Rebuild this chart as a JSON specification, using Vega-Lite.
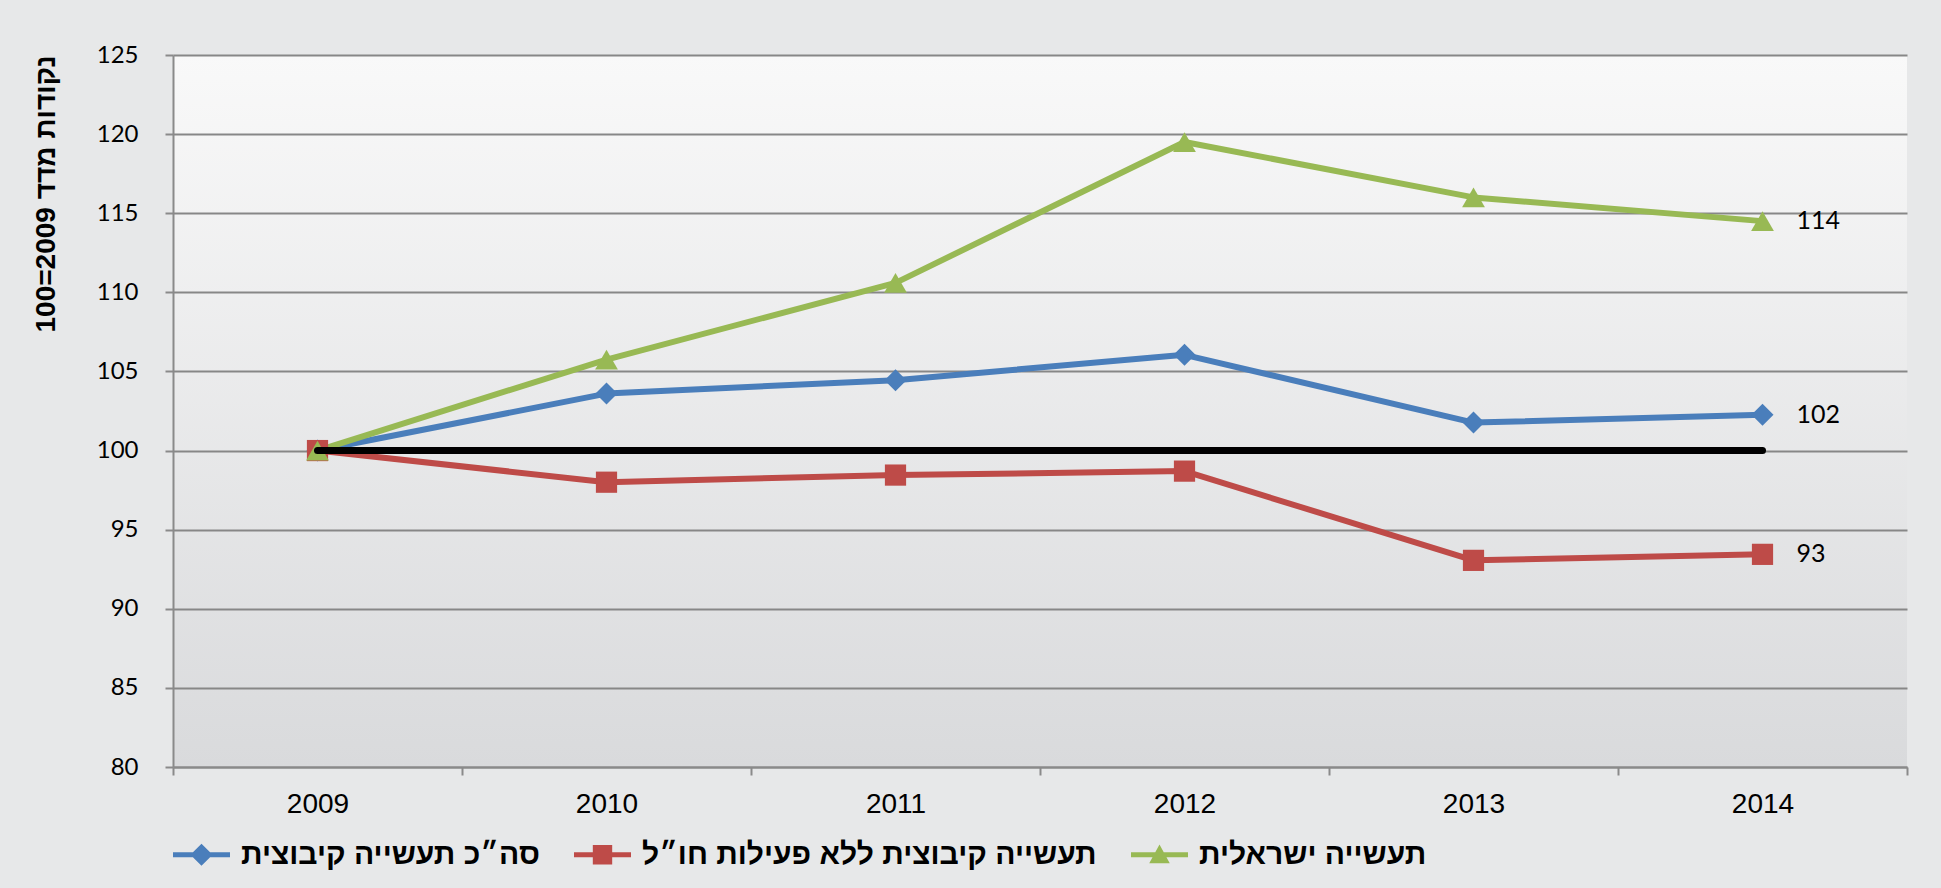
{
  "$schema": "https://vega.github.io/schema/vega-lite/v6.json",
  "width": 1734,
  "height": 712,
  "autosize": {"type": "none"},
  "padding": {"left": 173, "top": 55, "right": 34, "bottom": 121},
  "background": "#e7e8e9",
  "config": {
    "view": {
      "stroke": null,
      "fill": {"gradient": "linear", "x1": 0, "y1": 0, "x2": 0, "y2": 1,
        "stops": [{"offset": 0, "color": "#f9f9f9"}, {"offset": 1, "color": "#d9dadc"}]}
    },
    "legend": {
      "orient": "bottom", "direction": "horizontal", "title": null, "offset": 8, "padding": 0,
      "labelFont": "Liberation Sans", "labelFontSize": 30, "labelFontWeight": "bold", "labelColor": "#000000",
      "labelLimit": 800, "symbolSize": 3249, "labelOffset": 11, "columnPadding": 34
    }
  },
  "datasets": {
    "main": [
      {"year": "2009", "series": "סה״כ תעשייה קיבוצית", "value": 100},
      {"year": "2010", "series": "סה״כ תעשייה קיבוצית", "value": 103.6},
      {"year": "2011", "series": "סה״כ תעשייה קיבוצית", "value": 104.45},
      {"year": "2012", "series": "סה״כ תעשייה קיבוצית", "value": 106.05},
      {"year": "2013", "series": "סה״כ תעשייה קיבוצית", "value": 101.77},
      {"year": "2014", "series": "סה״כ תעשייה קיבוצית", "value": 102.26, "label": "102"},
      {"year": "2009", "series": "תעשייה קיבוצית ללא פעילות חו״ל", "value": 100},
      {"year": "2010", "series": "תעשייה קיבוצית ללא פעילות חו״ל", "value": 98.0},
      {"year": "2011", "series": "תעשייה קיבוצית ללא פעילות חו״ל", "value": 98.45},
      {"year": "2012", "series": "תעשייה קיבוצית ללא פעילות חו״ל", "value": 98.7},
      {"year": "2013", "series": "תעשייה קיבוצית ללא פעילות חו״ל", "value": 93.06},
      {"year": "2014", "series": "תעשייה קיבוצית ללא פעילות חו״ל", "value": 93.44, "label": "93"},
      {"year": "2009", "series": "תעשייה ישראלית", "value": 100},
      {"year": "2010", "series": "תעשייה ישראלית", "value": 105.75},
      {"year": "2011", "series": "תעשייה ישראלית", "value": 110.6},
      {"year": "2012", "series": "תעשייה ישראלית", "value": 119.5},
      {"year": "2013", "series": "תעשייה ישראלית", "value": 116.0},
      {"year": "2014", "series": "תעשייה ישראלית", "value": 114.5, "label": "114"}
    ],
    "base": [
      {"year": "2009", "value": 100},
      {"year": "2014", "value": 100}
    ]
  },
  "encoding": {
    "x": {
      "field": "year", "type": "ordinal",
      "scale": {"type": "band", "paddingInner": 0, "paddingOuter": 0, "domain": ["2009", "2010", "2011", "2012", "2013", "2014"]},
      "axis": {
        "title": null, "labelAngle": 0, "labelFont": "Liberation Sans", "labelFontSize": 28, "labelColor": "#000000",
        "labelPadding": 15, "tickSize": 8, "tickBand": "extent", "domainColor": "#8a8a8a", "domainWidth": 2,
        "tickColor": "#8a8a8a", "tickWidth": 2, "grid": false
      }
    },
    "y": {
      "field": "value", "type": "quantitative",
      "scale": {"domain": [80, 125], "nice": false, "zero": false},
      "axis": {
        "values": [80, 85, 90, 95, 100, 105, 110, 115, 120, 125],
        "title": "נקודות מדד 2009=100",
        "titleFont": "Liberation Sans", "titleFontSize": 28, "titleFontWeight": "bold", "titleColor": "#000000",
        "titlePadding": 36, "titleAnchor": "end",
        "labelFont": "Lato", "labelFontSize": 24, "labelColor": "#000000", "labelPadding": 27,
        "tickSize": 8, "tickColor": "#8a8a8a", "tickWidth": 2,
        "domainColor": "#8a8a8a", "domainWidth": 2,
        "grid": true, "gridColor": "#878787", "gridWidth": 2
      }
    }
  },
  "layer": [
    {
      "data": {"name": "main"},
      "mark": {"type": "line", "strokeWidth": 6, "strokeJoin": "round"},
      "encoding": {
        "color": {
          "field": "series", "type": "nominal",
          "scale": {
            "domain": ["סה״כ תעשייה קיבוצית", "תעשייה קיבוצית ללא פעילות חו״ל", "תעשייה ישראלית"],
            "range": ["#4a7ebb", "#be4b48", "#98b954"]
          },
          "legend": {
            "symbolType": "M-1,-0.09H1V0.09H-1Z",
            "encode": {
              "symbols": {
                "update": {
                  "shape": {"signal": "datum.index === 0 ? 'M-1,-0.09H1V0.09H-1Z M0,-0.39L0.39,0L0,0.39L-0.39,0Z' : datum.index === 1 ? 'M-1,-0.09H1V0.09H-1Z M-0.34,-0.34H0.34V0.34H-0.34Z' : 'M-1,-0.09H1V0.09H-1Z M0,-0.36L0.36,0.3H-0.36Z'"},
                  "fill": {"scale": "color", "field": "value"},
                  "stroke": {"value": null},
                  "strokeWidth": {"value": 0},
                  "fillOpacity": {"value": 1}
                }
              }
            }
          }
        }
      }
    },
    {
      "data": {"name": "main"},
      "transform": [{"filter": "datum.series === 'סה״כ תעשייה קיבוצית'"}],
      "mark": {"type": "point", "filled": true, "opacity": 1, "size": 484, "shape": "diamond", "color": "#4a7ebb"}
    },
    {
      "data": {"name": "main"},
      "transform": [{"filter": "datum.series === 'תעשייה קיבוצית ללא פעילות חו״ל'"}],
      "mark": {"type": "point", "filled": true, "opacity": 1, "size": 450, "shape": "square", "color": "#be4b48"}
    },
    {
      "data": {"name": "main"},
      "transform": [{"filter": "datum.series === 'תעשייה ישראלית'"}],
      "mark": {"type": "point", "filled": true, "opacity": 1, "size": 520, "shape": "triangle-up", "color": "#98b954"}
    },
    {
      "data": {"name": "base"},
      "mark": {"type": "line", "color": "#000000", "strokeWidth": 7, "strokeCap": "round"},
      "encoding": {}
    },
    {
      "data": {"name": "main"},
      "transform": [{"filter": "isValid(datum.label)"}],
      "mark": {"type": "text", "align": "left", "baseline": "middle", "dx": 34, "font": "Lato", "fontSize": 25, "color": "#000000"},
      "encoding": {
        "text": {"field": "label", "type": "nominal"}
      }
    }
  ]
}
